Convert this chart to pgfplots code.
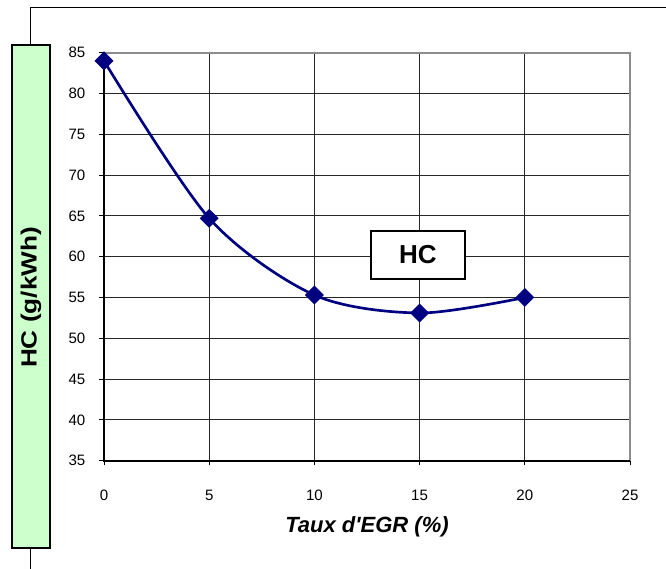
\documentclass[border=0pt]{standalone}
\usepackage{fontspec}
\setmainfont{Liberation Sans}
\usepackage{graphicx}
\usepackage{pgfplots}
\pgfplotsset{compat=1.18}
\definecolor{navyline}{HTML}{000080}
\definecolor{panelgreen}{HTML}{CCFFCC}
\definecolor{framegray}{HTML}{8C8C8C}

\begin{document}
\begin{tikzpicture}
% overall page extent
\path[use as bounding box] (-78pt,-81pt) rectangle (421.5pt,345.5pt);
% chart frame (left and top edges)
\draw[line width=0.75pt] (-55.1pt,-81pt) -- (-55.1pt,339.5pt) -- (421.5pt,339.5pt);
% y-axis title panel
\draw[line width=1.1pt, fill=panelgreen] (-69pt,-65.5pt) rectangle (-40.5pt,311.8pt);
\node[rotate=90, inner sep=0pt, font=\fontsize{16.5}{18}\selectfont\bfseries]
  at (-54.75pt,122.4pt) {\scalebox{1.19}[1]{HC (g/kWh)}};

\begin{axis}[
  at={(0pt,0pt)}, anchor=south west,
  scale only axis, width=394.5pt, height=306pt,
  xmin=0, xmax=25, ymin=35, ymax=85,
  xtick={0,5,...,25}, ytick={35,40,...,85},
  xtick pos=bottom, ytick pos=left,
  grid=major,
  major grid style={black!85, line width=0.7pt},
  axis line style={draw=none},
  tick align=outside, major tick length=3.6pt,
  tick style={black, line width=0.7pt},
  tick label style={font=\fontsize{11.3}{12}\selectfont},
  /pgf/number format/assume math mode=true,
  xticklabel style={anchor=north, inner sep=0pt, yshift=-18pt},
  yticklabel style={anchor=east, inner sep=0pt, xshift=-10.2pt},
  xlabel={\bfseries\itshape Taux d\textquotesingle EGR (\%)},
  xlabel style={font=\fontsize{16.5}{18}\selectfont, at={(rel axis cs:0.5,0)},
    anchor=center, yshift=-49.9pt},
  clip=false,
]
% plot area borders
\draw[framegray, line width=1.6pt] (rel axis cs:0,1) -- (rel axis cs:1,1) -- (rel axis cs:1,0);
\draw[black, line width=1.4pt] (rel axis cs:0,1) -- (rel axis cs:0,0) -- (rel axis cs:1,0);
% label box
\node[draw, line width=1.1pt, fill=white, minimum width=70.5pt, minimum height=36pt,
  font=\fontsize{19.5}{22}\selectfont\bfseries] at (axis cs:14.92,60.2) {HC};
% HC emissions vs EGR rate
\addplot[navyline, line width=2pt, smooth, tension=0.5,
  mark=square*, mark size=4pt, mark options={rotate=45, fill=navyline, solid}]
  coordinates {(0,84.0) (5,64.7) (10,55.3) (15,53.1) (20,55.0)};
\end{axis}
\end{tikzpicture}
\end{document}
